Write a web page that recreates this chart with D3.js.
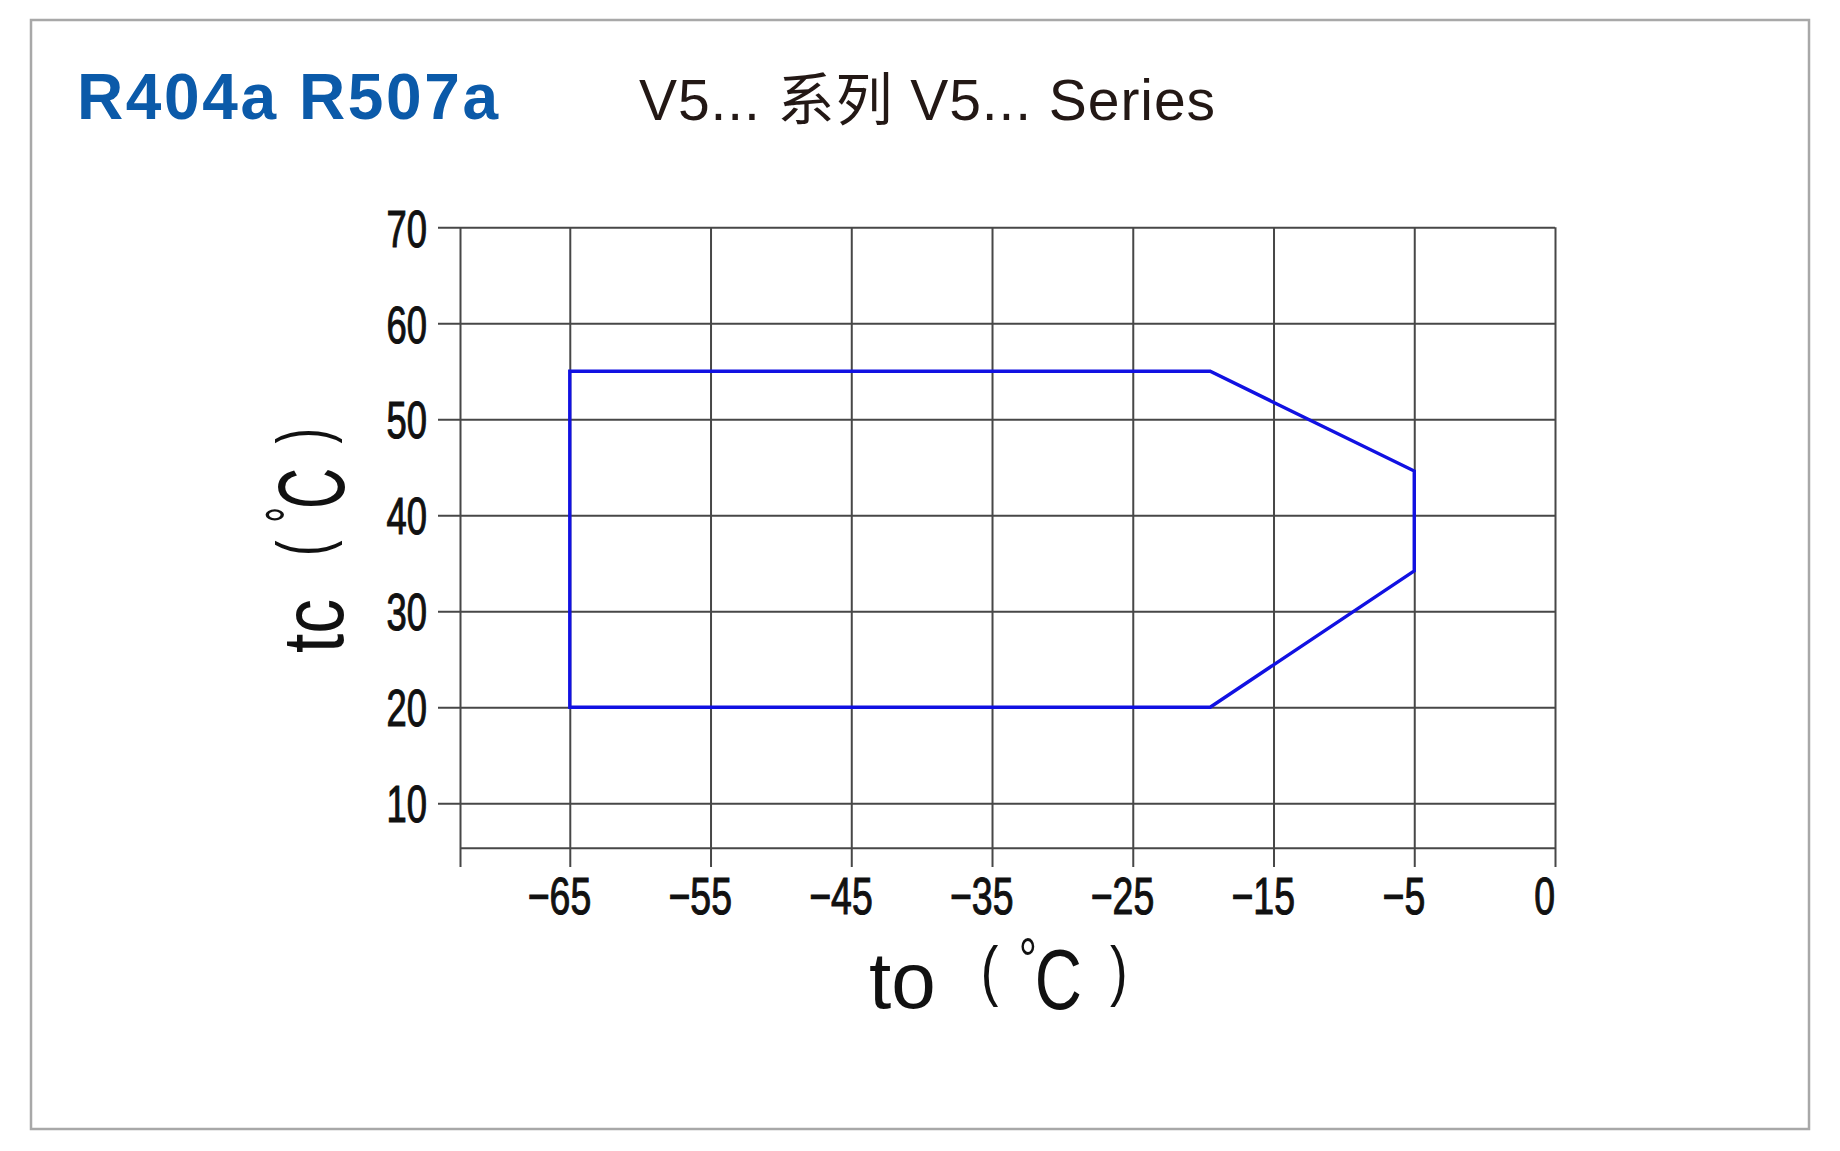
<!DOCTYPE html>
<html>
<head>
<meta charset="utf-8">
<script src="https://cdn.jsdelivr.net/npm/d3@7"></script>
<style>
  html, body { margin: 0; padding: 0; background: #ffffff; }
  svg { display: block; }
</style>
</head>
<body>
<svg id="chart" width="1840" height="1151"></svg>
<script>
// ---- data ----
const titleMain = "R404a R507a";
const titleSub = "V5... 系列 V5... Series";
const xTitleVar = "to";
const yTitleVar = "tc";
const unitOpen = "(", unitClose = ")";
const unitDeg = "°", unitC = "C";          // "（℃）" drawn in parts

const xTicks = [-65, -55, -45, -35, -25, -15, -5];
const xTickLabels = ["−65", "−55", "−45", "−35", "−25", "−15", "−5"];
const xEndLabel = "0";            // label printed at the right end of the axis
const yTicks = [10, 20, 30, 40, 50, 60, 70];
const yTickLabels = ["10", "20", "30", "40", "50", "60", "70"];

// operating envelope (evaporating to, condensing tc)
const envelopeTo = [-65, -19.5, -5, -5, -19.5, -65];
const envelopeTc = [55, 55, 44.6, 34.2, 20, 20];

// ---- layout ----
const svg = d3.select("#chart");
const W = 1840, H = 1151;
const plot = { left: 460, right: 1555, top: 227.3, bottom: 848.3, tickDrop: 867 };
const gridColor = "#474747";
const labelFont = "'Liberation Sans', Arial, 'Noto Sans CJK SC', sans-serif";
const latinFont = "'Liberation Sans', Arial, sans-serif";

svg.append("rect").attr("width", W).attr("height", H).attr("fill", "#ffffff");
svg.append("rect")
  .attr("x", 31).attr("y", 20).attr("width", 1778).attr("height", 1109)
  .attr("fill", "none").attr("stroke", "#a8a8a8").attr("stroke-width", 2.5);

// titles
svg.append("text")
  .attr("x", 77).attr("y", 119)
  .attr("font-family", latinFont)
  .attr("font-weight", "bold").attr("font-size", 64)
  .attr("fill", "#0b5aa9")
  .attr("textLength", 421).attr("lengthAdjust", "spacing")
  .text(titleMain);

svg.append("text")
  .attr("x", 639).attr("y", 120)
  .attr("font-family", labelFont)
  .attr("font-size", 57)
  .attr("fill", "#231815")
  .attr("textLength", 576).attr("lengthAdjust", "spacing")
  .text(titleSub);

// scales
const x = d3.scaleLinear().domain([-72.8, 5]).range([plot.left, plot.right]);
const y = d3.scaleLinear().domain([5.3, 70]).range([plot.bottom, plot.top]);

// vertical grid + x ticks (axis placed at the tick-drop line)
const xVals = [x.domain()[0], ...xTicks, x.domain()[1]];
const xLab = ["", ...xTickLabels, xEndLabel];
const xAxis = d3.axisBottom(x)
  .tickValues(xVals)
  .tickSize(-(plot.tickDrop - plot.top))
  .tickSizeOuter(0)
  .tickPadding(10)
  .tickFormat((d, i) => xLab[i]);

const gx = svg.append("g")
  .attr("transform", `translate(0,${plot.tickDrop})`)
  .call(xAxis);
gx.select(".domain").remove();
gx.selectAll(".tick line").attr("stroke", gridColor).attr("stroke-width", 2);
gx.selectAll(".tick text")
  .attr("font-family", labelFont)
  .attr("font-size", 52)
  .attr("fill", "#111")
  .attr("stroke", "#111").attr("stroke-width", 1.1)
  .attr("dy", "0.72em")
  .attr("dx", -15)
  .attr("transform", "scale(0.72,1)");

// horizontal grid + y ticks (axis placed at right edge, ticks extend left past plot)
const yAxis = d3.axisLeft(y)
  .tickValues(yTicks)
  .tickSize(plot.right - 438)
  .tickSizeOuter(0)
  .tickPadding(11)
  .tickFormat((d, i) => yTickLabels[i]);

const gy = svg.append("g")
  .attr("transform", `translate(${plot.right},0)`)
  .call(yAxis);
gy.select(".domain").remove();
gy.selectAll(".tick line").attr("stroke", gridColor).attr("stroke-width", 2);
gy.selectAll(".tick text")
  .attr("font-family", labelFont)
  .attr("font-size", 52)
  .attr("fill", "#111")
  .attr("stroke", "#111").attr("stroke-width", 1.1)
  .attr("dy", "0.36em")
  .each(function() {
    const t = d3.select(this);
    const xx = +t.attr("x");
    t.attr("x", 0).attr("transform", `translate(${xx},0) scale(0.7,1)`);
  });

// bottom boundary line of plot
svg.append("line")
  .attr("x1", x.range()[0]).attr("x2", x.range()[1])
  .attr("y1", y(y.domain()[0])).attr("y2", y(y.domain()[0]))
  .attr("stroke", gridColor).attr("stroke-width", 2);

// envelope
const pts = envelopeTo.map((t, i) => [x(t), y(envelopeTc[i])]);
svg.append("path")
  .attr("d", d3.line()(pts) + "Z")
  .attr("fill", "none")
  .attr("stroke", "#1111e2")
  .attr("stroke-width", 3.4)
  .attr("stroke-linejoin", "miter");

// axis titles: variable name + "(℃)"
function axisTitle(g, varText) {
  const add = (tr, fs) => g.append("text")
    .attr("transform", tr)
    .attr("font-family", latinFont)
    .attr("font-size", fs)
    .attr("fill", "#111");
  add("translate(0,0)", 80).text(varText);
  add("translate(111.8,-15) scale(0.8,1)", 66).text(unitOpen);
  const deg = add("translate(149.7,0) scale(0.76,1)", 86);
  deg.append("tspan").attr("font-size", 60).attr("y", -28.5).text(unitDeg);
  deg.append("tspan").attr("dx", -3).attr("y", 1).text(unitC);
  add("translate(240.9,-15) scale(0.8,1)", 66).text(unitClose);
}

axisTitle(svg.append("g").attr("transform", "translate(869,1008)"), xTitleVar);
axisTitle(svg.append("g").attr("transform", "translate(343,653) rotate(-90) scale(0.87,1.1)"), yTitleVar);
</script>
</body>
</html>
